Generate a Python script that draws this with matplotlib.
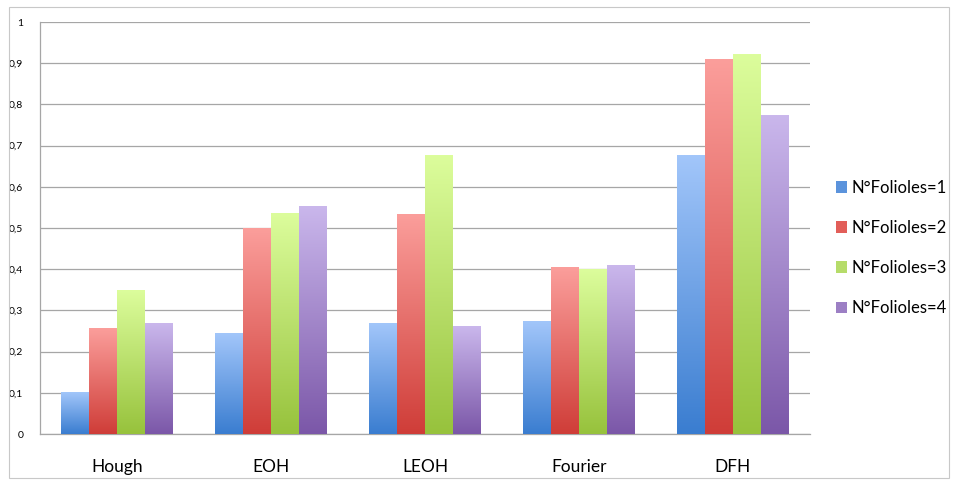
import numpy as np
import matplotlib.pyplot as plt
from matplotlib.colors import LinearSegmentedColormap
from matplotlib.patches import Rectangle

# data
methods = ["Hough", "EOH", "LEOH", "Fourier", "DFH"]
series = ["N°Folioles=1", "N°Folioles=2", "N°Folioles=3", "N°Folioles=4"]
f1 = [0.100, 0.243, 0.267, 0.274, 0.675]
f2 = [0.257, 0.500, 0.532, 0.403, 0.910]
f3 = [0.348, 0.536, 0.677, 0.400, 0.922]
f4 = [0.269, 0.553, 0.260, 0.408, 0.774]
values = [f1, f2, f3, f4]

# (bottom colour, top colour, legend colour)
colors = [("#3a7dd0", "#a2c6fa", "#5b93dc"),
          ("#cf3d38", "#fb9e9b", "#e25e59"),
          ("#97c23c", "#dcfd9c", "#b6dc6a"),
          ("#7b57a8", "#cab7ec", "#9c7fc4")]

plt.rcParams['font.family'] = ['Lato', 'DejaVu Sans']

fig = plt.figure(figsize=(9.58, 4.82), dpi=100)
ax = fig.add_axes([40/958, 1-434/482, 770/958, 412/482])

# outer frame
fig.patches.append(Rectangle((9/958, 1-478/482), 940/958, 471/482, transform=fig.transFigure,
                             fill=False, edgecolor="#c8c8c8", linewidth=0.8))

x = np.arange(len(methods))
group_w = 0.727
bw = group_w / len(series)

grad = np.linspace(0, 1, 256).reshape(-1, 1)
for i, vals in enumerate(values):
    cmap = LinearSegmentedColormap.from_list("g%d" % i, [colors[i][0], colors[i][1]])
    bars = ax.bar(x - group_w/2 + bw*(i+0.5), vals, width=bw, color="none", zorder=3)
    for p in bars:
        x0, w, h = p.get_x(), p.get_width(), p.get_height()
        ax.imshow(grad, cmap=cmap, origin="lower", aspect="auto",
                  extent=(x0, x0 + w, 0, h), zorder=3)

ax.set_xlim(-0.5, len(methods) - 0.5)
ax.set_ylim(0, 1)
ax.set_yticks(np.arange(0, 1.01, 0.1))
ax.set_yticklabels([("%.1f" % t).replace(".", ",") if t not in (0, 1) else "%d" % t
                    for t in np.round(np.arange(0, 1.01, 0.1), 1)], fontsize=7.5)
ax.set_xticks(x)
ax.set_xticklabels(methods, fontsize=12.5)
ax.tick_params(axis="x", length=0, pad=18)
ax.tick_params(axis="y", length=0, pad=12)
ax.grid(axis="y", color="#a6a6a6", linewidth=0.9, zorder=0)
ax.set_axisbelow(True)
for s in ["top", "right"]:
    ax.spines[s].set_visible(False)
for s in ["left", "bottom"]:
    ax.spines[s].set_color("#a6a6a6")
    ax.spines[s].set_linewidth(0.9)

handles = [Rectangle((0, 0), 1, 1, facecolor=c[2], edgecolor="none") for c in colors]
fig.legend(handles, series, loc="center left", bbox_to_anchor=(824/958, 1-248/482),
           frameon=False, fontsize=12, handlelength=0.7, handleheight=0.7,
           handletextpad=0.25, labelspacing=1.45, borderpad=0.2)

fig.savefig("out.png", dpi=100)
